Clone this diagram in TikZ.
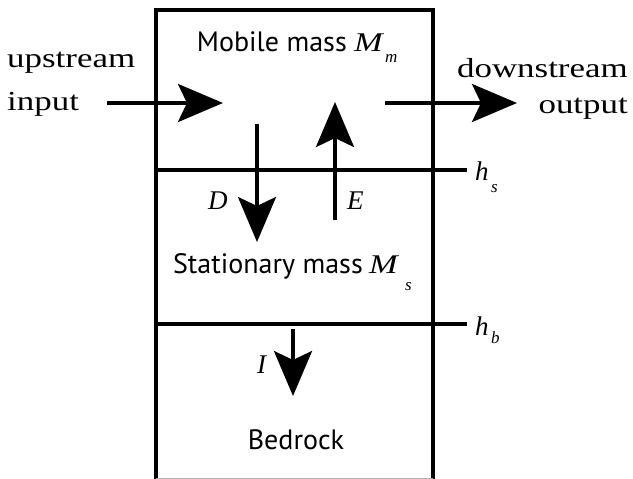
\documentclass[tikz,border=0pt]{standalone}
\usepackage{fontspec}
\setmainfont{Liberation Serif}
\newfontfamily\serifw[FakeStretch=1.27]{Liberation Serif}
\newfontfamily\sanslbl{PT Sans}
\usetikzlibrary{arrows.meta}
\tikzset{
  wall/.style={line width=3.5pt},
  flow/.style={line width=3.5pt,-{Stealth[length=45pt,width=38pt,inset=9pt]}},
  bigtext/.style={inner sep=0pt,font=\serifw\fontsize{27.5}{30}\selectfont},
  sanstext/.style={inner sep=0pt,font=\sanslbl\fontsize{28}{30}\selectfont},
  symb/.style={inner sep=0pt,font=\itshape\fontsize{27}{30}\selectfont},
  bigsymb/.style={inner sep=0pt,font=\serifw\itshape\fontsize{27}{30}\selectfont},
  subs/.style={inner sep=0pt,font=\itshape\fontsize{17}{18}\selectfont},
}
\begin{document}
\begin{tikzpicture}[x=1pt,y=-1pt]
\useasboundingbox (0,0) rectangle (633,479);
% box
\draw[wall,line join=miter] (156,481) -- (156,10) -- (433,10) -- (433,481);
\draw[gray!60,line width=0.8pt] (156,478.6) -- (433,478.6);
% level lines
\coordinate (hsL) at (156,170); \coordinate (hsR) at (467,170);
\coordinate (hbL) at (156,324); \coordinate (hbR) at (467,324);
\draw[wall] (hsL) -- (hsR);
\draw[wall] (hbL) -- (hbR);
% flow arrows
\coordinate (inA) at (107,103); \coordinate (inB) at (223,103);
\coordinate (outA) at (385,103); \coordinate (outB) at (517,103);
\coordinate (dA) at (257,124); \coordinate (dB) at (257,242);
\coordinate (eA) at (335,220); \coordinate (eB) at (335,102);
\coordinate (iA) at (293,329); \coordinate (iB) at (293,396);
\draw[flow] (inA) -- (inB);
\draw[flow] (outA) -- (outB);
\draw[flow] (dA) -- (dB);
\draw[flow] (eA) -- (eB);
\draw[flow] (iA) -- (iB);
% outside texts
\node[bigtext,anchor=base west] (up) at (7,67) {upstream};
\node[bigtext,anchor=base west] (inp) at (7,110) {input};
\node[bigtext,anchor=base east] (down) at (628,77) {downstream};
\node[bigtext,anchor=base east] (outp) at (628,113) {output};
% layer texts
\node[sanstext,anchor=base east] (mob) at (347,52) {Mobile mass};
\node[bigsymb,anchor=base west] (Mm) at (354,52) {M};
\node[subs,anchor=base west] (Mmsub) at (385,63) {m};
\node[sanstext,anchor=base east] (sta) at (363,273) {Stationary mass};
\node[bigsymb,anchor=base west] (Ms) at (369,273) {M};
\node[subs,anchor=base west] (Mssub) at (405,290) {s};
\node[sanstext,anchor=base] (bed) at (296,449) {Bedrock};
% flux labels
\node[symb,anchor=base west] (D) at (208,209) {D};
\node[symb,anchor=base west] (E) at (347,209) {E};
\node[symb,anchor=base west] (I) at (257,373) {I};
% heights
\node[symb,anchor=base west] (hs) at (475,180) {h};
\node[subs,anchor=base west] (hssub) at (491,192) {s};
\node[symb,anchor=base west] (hb) at (475,335) {h};
\node[subs,anchor=base west] (hbsub) at (491,343) {b};
\end{tikzpicture}
\end{document}
